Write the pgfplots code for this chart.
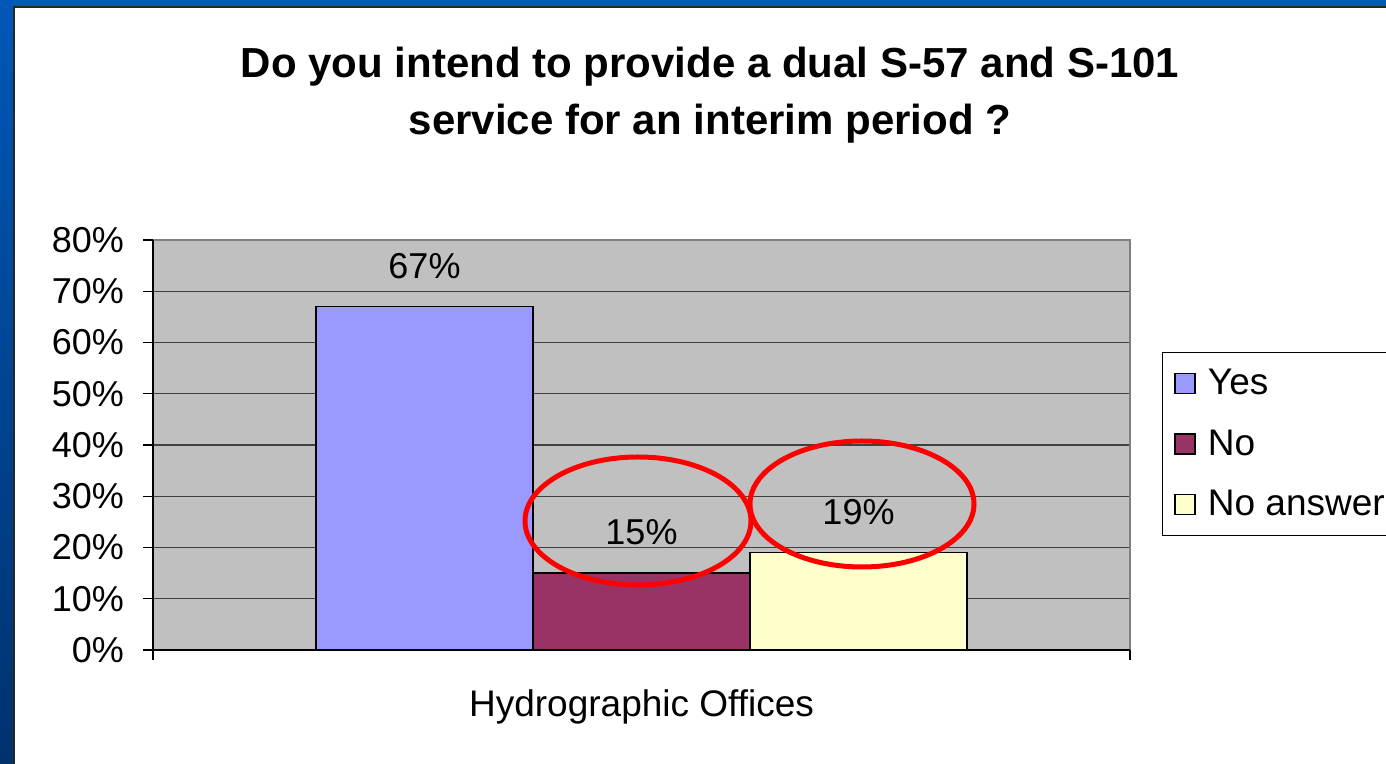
\documentclass[border=0pt]{standalone}
\usepackage{pgfplots}
\pgfplotsset{compat=1.18}
\usepackage{fontspec}
\setmainfont{Liberation Sans}
\definecolor{cyes}{HTML}{9999FF}
\definecolor{cno}{HTML}{993366}
\definecolor{cna}{HTML}{FFFFCC}
\definecolor{plotbg}{HTML}{C0C0C0}
\definecolor{bgtop}{HTML}{0058B8}
\definecolor{bgbot}{HTML}{00326E}
\begin{document}
\begin{tikzpicture}
\clip (0,0) rectangle (693pt,382pt);
\shade[top color=bgtop, bottom color=bgbot] (0,0) rectangle (693pt,382pt);
\fill[white, draw=black!85, line width=1pt] (7pt,-5pt) rectangle (700pt,378.5pt);
\node[font=\fontsize{21}{28.5}\selectfont\bfseries, align=center] at (355pt,334.5pt) {Do you intend to provide a dual S-57 and S-101\\service for an interim period ?};
\pgfplotsset{mylegend/.style={legend image code/.code={\draw[##1, draw=black, line width=0.8pt] (0pt,-5pt) rectangle (10pt,5pt);}}}
\begin{axis}[
  at={(76.5pt,57pt)}, anchor=south west, scale only axis,
  width=488.5pt, height=205pt,
  xmin=0, xmax=1, ymin=0, ymax=80,
  ybar=0pt, bar width=108.5pt,
  axis background/.style={fill=plotbg},
  axis line style={draw=none},
  clip=false,
  xtick={0,1}, xticklabels={,},
  ytick={0,10,...,80},
  /pgf/number format/assume math mode=true,
  yticklabel={\pgfmathprintnumber{\tick}\%},
  yticklabel style={xshift=-6pt},
  xtick pos=lower, ytick pos=left,
  tick align=outside, major tick length=5pt,
  tick style={black, line width=0.6pt},
  ymajorgrids, grid style={black!75, line width=0.6pt},
  tick label style={font=\fontsize{18}{20}\selectfont},
  xlabel={Hydrographic Offices},
  xlabel style={at={(axis description cs:0.5,0)}, anchor=center, yshift=-28.5pt, font=\fontsize{18.5}{20}\selectfont},
  nodes near coords={\pgfmathprintnumber[precision=0]{\pgfplotspointmeta}\%},
  nodes near coords style={anchor=center, yshift=20.5pt, font=\fontsize{18}{20}\selectfont, black},
  legend style={at={(1.0327,0.7268)}, anchor=north west, draw=black, fill=white,
    font=\fontsize{18.5}{21}\selectfont, row sep=12pt, inner xsep=6pt, inner ysep=6.5pt,
    /tikz/every odd column/.append style={column sep=4pt}},
  legend cell align=left,
]
\addplot[fill=cyes, draw=black, line width=0.8pt, mylegend] coordinates {(0.5,67)};
\addplot[fill=cno, draw=black, line width=0.8pt, mylegend] coordinates {(0.5,15)};
\addplot[fill=cna, draw=black, line width=0.8pt, mylegend] coordinates {(0.5,19)};
\legend{Yes, No, No answer}
\draw[black!50, line width=1.2pt] (rel axis cs:0,1) -- (rel axis cs:1,1) -- (rel axis cs:1,0);
\draw[black, line width=0.8pt] (rel axis cs:0,1) -- (rel axis cs:0,0) -- (rel axis cs:1,0);
\end{axis}
\draw[red, line width=2.5pt] (319pt,121.5pt) ellipse (56.5pt and 32pt);
\draw[red, line width=2.5pt] (431pt,130pt) ellipse (56pt and 31.5pt);
\end{tikzpicture}
\end{document}
